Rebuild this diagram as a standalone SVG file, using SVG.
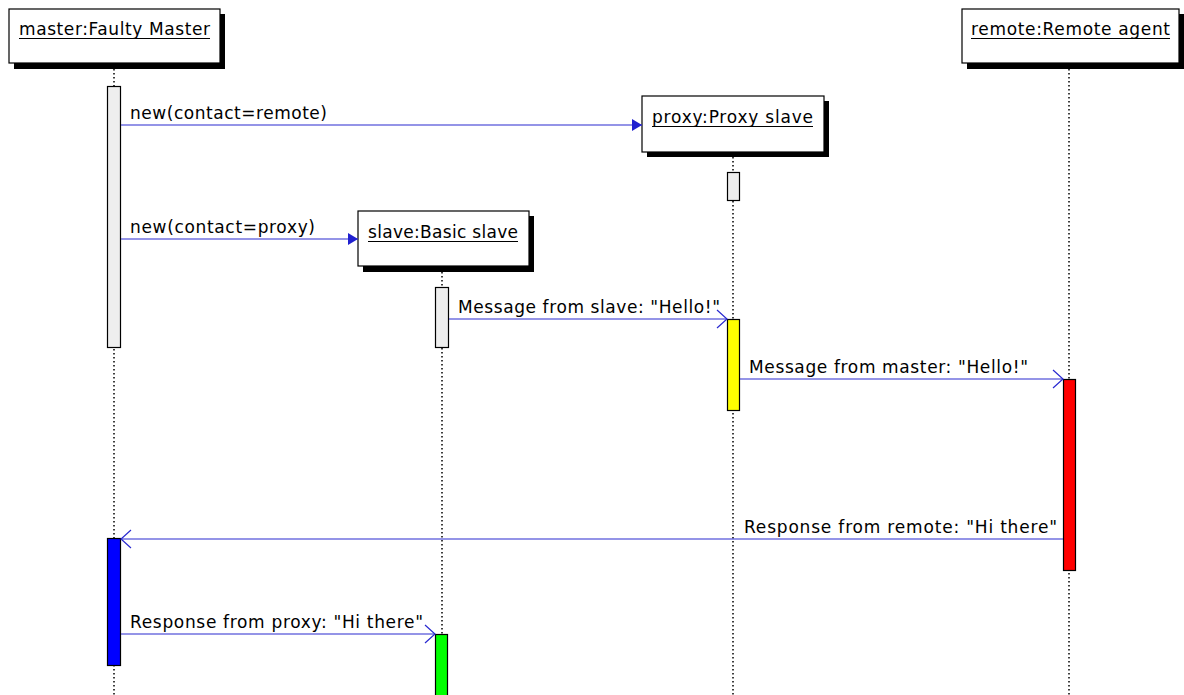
<svg xmlns="http://www.w3.org/2000/svg" width="1184" height="695" viewBox="0 0 1184 695">
  <style>
    text { font-family: "DejaVu Sans", "Liberation Sans", sans-serif; font-size: 17px; fill: #000; }
    .obj { fill: #fff; stroke: #000; stroke-width: 1.2; }
    .shadow { fill: #000; }
    .uline { stroke: #000; stroke-width: 1; }
    .life { stroke: #000; stroke-width: 1.5; stroke-dasharray: 1.5 2.5; fill: none; }
    .act { stroke: #000; stroke-width: 1.2; }
    .msg { stroke: #2a2ad0; stroke-width: 1.2; fill: none; }
  </style>
  <defs>
    <marker id="filled" viewBox="0 0 10 12" refX="10" refY="6" markerWidth="10" markerHeight="12" markerUnits="userSpaceOnUse" orient="auto">
      <path d="M0,0 L10,6 L0,12 Z" fill="#2020d0"/>
    </marker>
    <marker id="open" viewBox="0 0 12 20" refX="11" refY="10" markerWidth="12" markerHeight="20" markerUnits="userSpaceOnUse" orient="auto">
      <path d="M1,1 L11,10 L1,19" fill="none" stroke="#2a2ad0" stroke-width="1.2"/>
    </marker>
  </defs>

  <!-- lifelines -->
  <g id="lifelines">
    <line class="life" x1="114" y1="69" x2="114" y2="695"/>
    <line class="life" x1="442" y1="272" x2="442" y2="695"/>
    <line class="life" x1="733" y1="157" x2="733" y2="695"/>
    <line class="life" x1="1069" y1="69" x2="1069" y2="695"/>
  </g>

  <!-- objects -->
  <g id="master">
    <rect class="shadow" x="14" y="14" width="211" height="55"/>
    <rect class="obj" x="9" y="9" width="211" height="54"/>
    <text x="19" y="34.5" textLength="191" lengthAdjust="spacing">master:Faulty Master</text>
    <line class="uline" x1="19" y1="38.5" x2="210" y2="38.5"/>
  </g>
  <g id="proxy">
    <rect class="shadow" x="647" y="101" width="182" height="56"/>
    <rect class="obj" x="642" y="96" width="182" height="56"/>
    <text x="652" y="122.5" textLength="161" lengthAdjust="spacing">proxy:Proxy slave</text>
    <line class="uline" x1="652" y1="126.5" x2="813" y2="126.5"/>
  </g>
  <g id="slave">
    <rect class="shadow" x="363" y="216" width="171" height="56"/>
    <rect class="obj" x="358" y="211" width="171" height="55"/>
    <text x="368" y="237.5" textLength="150" lengthAdjust="spacing">slave:Basic slave</text>
    <line class="uline" x1="368" y1="241.5" x2="518" y2="241.5"/>
  </g>
  <g id="remote">
    <rect class="shadow" x="967" y="14" width="217" height="55"/>
    <rect class="obj" x="962" y="9" width="217" height="54"/>
    <text x="971" y="34.5" textLength="199" lengthAdjust="spacing">remote:Remote agent</text>
    <line class="uline" x1="971" y1="38.5" x2="1170" y2="38.5"/>
  </g>

  <!-- activations -->
  <g id="activations">
    <rect class="act" x="107.5" y="86.5" width="13" height="261" fill="#eeeeee"/>
    <rect class="act" x="727.5" y="172.5" width="12" height="28" fill="#eeeeee"/>
    <rect class="act" x="435.5" y="287.5" width="13" height="60" fill="#eeeeee"/>
    <rect class="act" x="727.5" y="319.5" width="12" height="91" fill="#ffff00"/>
    <rect class="act" x="1063.5" y="379.5" width="12" height="191" fill="#ff0000"/>
    <rect class="act" x="107.5" y="538.5" width="13" height="127" fill="#0000ff"/>
    <rect class="act" x="435.5" y="634.5" width="12" height="62" fill="#00ff00"/>
  </g>

  <!-- connectors -->
  <g id="connectors">
    <line class="msg" x1="121" y1="125" x2="642" y2="125" marker-end="url(#filled)"/>
    <text x="130" y="119" textLength="197" lengthAdjust="spacing">new(contact=remote)</text>

    <line class="msg" x1="121" y1="239" x2="358" y2="239" marker-end="url(#filled)"/>
    <text x="130" y="233" textLength="185" lengthAdjust="spacing">new(contact=proxy)</text>

    <line class="msg" x1="449" y1="319" x2="727" y2="319" marker-end="url(#open)"/>
    <text x="458" y="313" textLength="262" lengthAdjust="spacing">Message from slave: "Hello!"</text>

    <line class="msg" x1="740" y1="379" x2="1063" y2="379" marker-end="url(#open)"/>
    <text x="749" y="373" textLength="279" lengthAdjust="spacing">Message from master: "Hello!"</text>

    <line class="msg" x1="1063" y1="539" x2="121" y2="539" marker-end="url(#open)"/>
    <text x="744" y="533" textLength="313" lengthAdjust="spacing">Response from remote: "Hi there"</text>

    <line class="msg" x1="121" y1="634" x2="435" y2="634" marker-end="url(#open)"/>
    <text x="130" y="628" textLength="293" lengthAdjust="spacing">Response from proxy: "Hi there"</text>
  </g>
</svg>
